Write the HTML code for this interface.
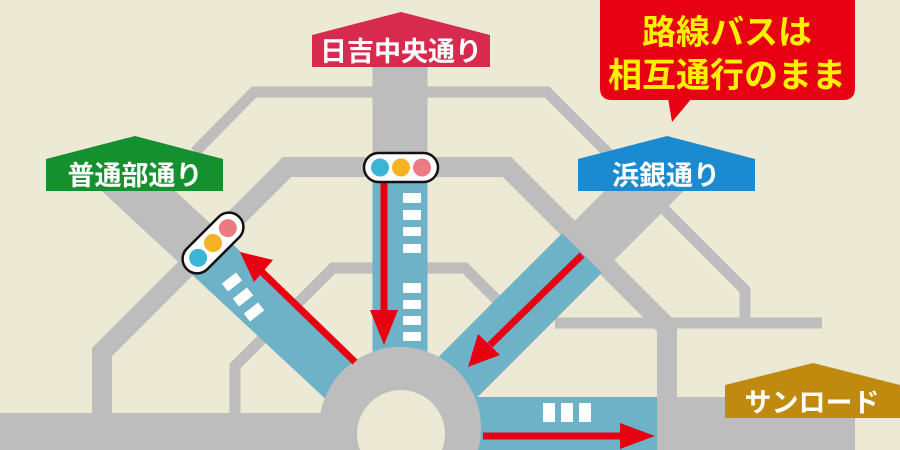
<!DOCTYPE html>
<html><head><meta charset="utf-8"><style>
html,body{margin:0;padding:0;background:#ECE9D4;width:900px;height:450px;overflow:hidden;}
svg{display:block;overflow:hidden}
text{font-family:"Liberation Sans","Noto Sans CJK JP",sans-serif;font-weight:bold;}
</style></head><body>
<svg width="900" height="450" viewBox="0 0 900 450" xmlns="http://www.w3.org/2000/svg">
<rect width="900" height="450" fill="#ECE9D4"/>
<g fill="none" stroke="#BDBDBD" stroke-linejoin="miter">
  <polyline points="195,152 254,92 547,92 745,290 745,322" stroke-width="11"/>
  <polyline points="102,413 102,352 287,167 507,167 667,327 667,440" stroke-width="20"/>
  <polyline points="235,413 235,366 333,268 465,268 505,308" stroke-width="11"/>
  <line x1="555" y1="323" x2="822" y2="323" stroke-width="11"/>
  <line x1="105" y1="160" x2="215" y2="262" stroke-width="50"/>
  <line x1="675" y1="160" x2="575" y2="260" stroke-width="56"/>
  <line x1="400" y1="67" x2="400" y2="185" stroke-width="55"/>
</g>
<g fill="none" stroke="#6EB2C7">
  <line x1="200" y1="248" x2="372" y2="408" stroke-width="50"/>
  <line x1="582" y1="253" x2="440" y2="395" stroke-width="56"/>
  <line x1="400" y1="182" x2="400" y2="360" stroke-width="55"/>
</g>
<rect x="470" y="397" width="187" height="53" fill="#6EB2C7"/>
<rect x="0" y="413" width="340" height="37" fill="#BDBDBD"/>
<rect x="657" y="397" width="198" height="53" fill="#BDBDBD"/>
<path d="M322.04 450 A81 81 0 1 1 477.96 450 Z" fill="#BDBDBD"/>
<path d="M360 450 A44 44 0 1 1 442 450 Z" fill="#ECE9D4"/>
<g fill="#fff">
  <rect x="403" y="193" width="18" height="10"/>
  <rect x="403" y="210" width="18" height="10"/>
  <rect x="403" y="227" width="18" height="9"/>
  <rect x="403" y="244" width="18" height="9"/>
  <rect x="403" y="283" width="18" height="10"/>
  <rect x="403" y="300" width="18" height="9"/>
  <rect x="403" y="316" width="18" height="9"/>
  <rect x="403" y="332" width="18" height="9"/>
  <rect x="543" y="403" width="12" height="19"/>
  <rect x="561" y="403" width="12" height="19"/>
  <rect x="579" y="403" width="12" height="19"/>
  <g transform="translate(232,282) rotate(-38)"><rect x="-9" y="-5" width="18" height="10"/></g>
  <g transform="translate(243,297) rotate(-38)"><rect x="-9" y="-5" width="18" height="10"/></g>
  <g transform="translate(254,312) rotate(-38)"><rect x="-9" y="-5" width="18" height="10"/></g>
</g>
<g fill="#E60012" stroke="#E60012">
  <line x1="384" y1="182" x2="384" y2="318" stroke-width="7"/>
  <polygon points="370,310 398,310 384,345" stroke="none"/>
  <line x1="355" y1="362" x2="262" y2="272" stroke-width="7"/>
  <polygon points="240,252 273,260 254,282" stroke="none"/>
  <line x1="582" y1="255" x2="490" y2="345" stroke-width="7"/>
  <polygon points="468,367 478,334 500,355" stroke="none"/>
  <line x1="483" y1="436" x2="630" y2="436" stroke-width="7"/>
  <polygon points="655,436 620,423 620,449" stroke="none"/>
</g>
<g>
  <rect x="364" y="153" width="74" height="29" rx="14.5" fill="#fff" stroke="#111" stroke-width="2.5"/>
  <circle cx="380" cy="167.5" r="9" fill="#3BB5D6"/>
  <circle cx="401" cy="167.5" r="9" fill="#F5B324"/>
  <circle cx="422" cy="167.5" r="9" fill="#EC7A82"/>
  <g transform="translate(213,243) rotate(-45)">
    <rect x="-37" y="-14.5" width="74" height="29" rx="14.5" fill="#fff" stroke="#111" stroke-width="2.5"/>
    <circle cx="-21" cy="0" r="9" fill="#3BB5D6"/>
    <circle cx="0" cy="0" r="9" fill="#F5B324"/>
    <circle cx="21" cy="0" r="9" fill="#EC7A82"/>
  </g>
</g>
<polygon points="312,35 401,12 490,35 490,67 312,67" fill="#D8294F"/>
<text x="401" y="61" font-size="27" fill="#fff" text-anchor="middle">日吉中央通り</text>
<polygon points="46,159 135,136 223,159 223,191 46,191" fill="#14902F"/>
<text x="135" y="185" font-size="27" fill="#fff" text-anchor="middle">普通部通り</text>
<polygon points="578,159 667,136 755,159 755,191 578,191" fill="#1A8BD0"/>
<text x="666" y="185" font-size="27" fill="#fff" text-anchor="middle">浜銀通り</text>
<polygon points="725,385 813,363 900,385 900,418 725,418" fill="#C08A0F"/>
<text x="812" y="412" font-size="27" fill="#fff" text-anchor="middle">サンロード</text>
<path d="M600 0 H855 V88 Q855 100 843 100 H612 Q600 100 600 88 Z" fill="#E60012"/>
<polygon points="668,98 692,98 672,122" fill="#E60012"/>
<text x="727" y="44" font-size="34" fill="#FFF000" text-anchor="middle">路線バスは</text>
<text x="727" y="87" font-size="34" fill="#FFF000" text-anchor="middle">相互通行のまま</text>
</svg>
</body></html>
